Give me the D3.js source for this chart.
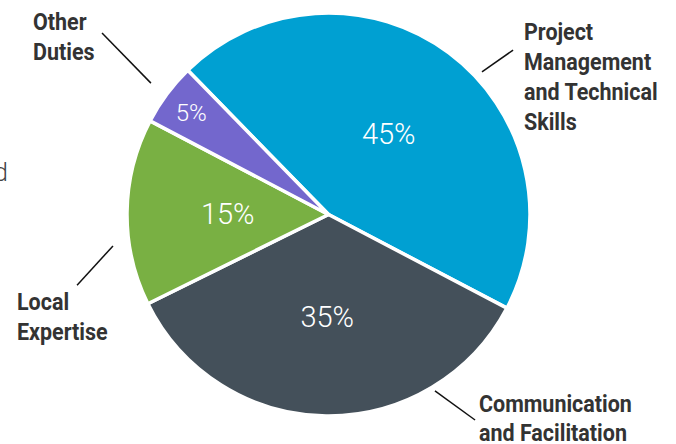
<!DOCTYPE html>
<html><head><meta charset="utf-8">
<script src="https://cdn.jsdelivr.net/npm/d3@7"></script>
<style>
html,body{margin:0;padding:0;background:#fff;}
svg{display:block;}
</style></head>
<body>
<svg id="chart" width="676" height="444"></svg>
<script>
const categories = ["Project Management and Technical Skills", "Communication and Facilitation", "Local Expertise", "Other Duties"];
const values = [45, 35, 15, 5];
const valueLabels = ["45%", "35%", "15%", "5%"];
const labelLines = [["Project", "Management", "and Technical", "Skills"], ["Communication", "and Facilitation"], ["Local", "Expertise"], ["Other", "Duties"]];
const colors = ["#00a0d2", "#44505a", "#79b043", "#7367cd"];

// layout (not data)
const W = 676, H = 444, cx = 328.5, cy = 214.5, R = 201.5;
const startDeg = -44.3;
const pctLayout = [{rf: 0.5, size: 29}, {rf: 0.505, size: 29}, {rf: 0.5, size: 29}, {rf: 0.85, size: 24}];
// leader lines: [inner angle deg, inner radius, outer angle deg, outer radius]
const leaders = [[47.1, 209.5, 48.3, 247.2], [148.9, 206.1, 144.5, 252.4], [261.7, 217.8, 254.3, 261.2], [306.5, 220.9, 308.7, 290.2]];
// text blocks: x, first baseline, line height
const textBlocks = [[524, 40, 30], [479, 411.5, 30], [17, 310, 30], [33, 30, 30]];

const svg = d3.select("#chart");
const g = svg.append("g").attr("transform", `translate(${cx},${cy})`);

const pie = d3.pie().sort(null).value(d => d)
  .startAngle(startDeg * Math.PI / 180)
  .endAngle((startDeg + 360) * Math.PI / 180);
const arcs = pie(values);
const arc = d3.arc().innerRadius(0).outerRadius(R);

g.selectAll("path.slice").data(arcs).join("path")
  .attr("class", "slice")
  .attr("d", arc)
  .attr("fill", (d, i) => colors[i])
  .attr("stroke", "#fff")
  .attr("stroke-width", 3.5)
  .attr("stroke-linejoin", "round");

g.selectAll("text.pct").data(arcs).join("text")
  .attr("class", "pct")
  .attr("transform", (d, i) => {
    const r = R * pctLayout[i].rf;
    const c = d3.arc().innerRadius(r).outerRadius(r).centroid(d);
    return `translate(${c[0]},${c[1]})`;
  })
  .attr("text-anchor", "middle")
  .attr("dy", "0.36em")
  .attr("fill", "#fff")
  .attr("font-family", "Roboto, 'Open Sans', sans-serif")
  .attr("font-weight", 300)
  .attr("font-size", (d, i) => pctLayout[i].size + "px")
  .text((d, i) => valueLabels[i]);

// leader lines
const pt = (deg, r) => [Math.sin(deg * Math.PI / 180) * r, -Math.cos(deg * Math.PI / 180) * r];
g.selectAll("line.leader").data(leaders).join("line")
  .attr("class", "leader")
  .attr("x1", d => pt(d[0], d[1])[0]).attr("y1", d => pt(d[0], d[1])[1])
  .attr("x2", d => pt(d[2], d[3])[0]).attr("y2", d => pt(d[2], d[3])[1])
  .attr("stroke", "#111").attr("stroke-width", 1.5);

// category labels (condensed bold look)
const fontCond = "Roboto, 'Liberation Sans', sans-serif";
const fs = 24;
const probe = svg.append("text").attr("font-family", fontCond).attr("font-weight", "bold")
  .attr("font-size", fs + "px").text("Communication");
const probe2 = svg.append("text").attr("font-family", fontCond).attr("font-weight", "bold")
  .attr("font-size", fs + "px").text("Management");
const sx = ((152 / probe.node().getComputedTextLength()) + (128 / probe2.node().getComputedTextLength())) / 2;
probe.remove(); probe2.remove();

categories.forEach((c, i) => {
  const [x, y0, lh] = textBlocks[i];
  const t = svg.append("g").attr("transform", `translate(${x},${y0}) scale(${sx},1)`)
    .append("text")
    .attr("font-family", fontCond)
    .attr("font-weight", "bold")
    .attr("font-size", fs + "px")
    .attr("fill", "#333");
  labelLines[i].forEach((ln, j) => {
    t.append("tspan").attr("x", 0).attr("y", j * lh).text(ln);
  });
});

// cut-off text at left edge
svg.append("text")
  .attr("x", 8).attr("y", 181)
  .attr("text-anchor", "end")
  .attr("font-family", "Roboto, sans-serif")
  .attr("font-weight", 300)
  .attr("font-size", "25px")
  .attr("fill", "#444")
  .text("and");
</script>
</body></html>
